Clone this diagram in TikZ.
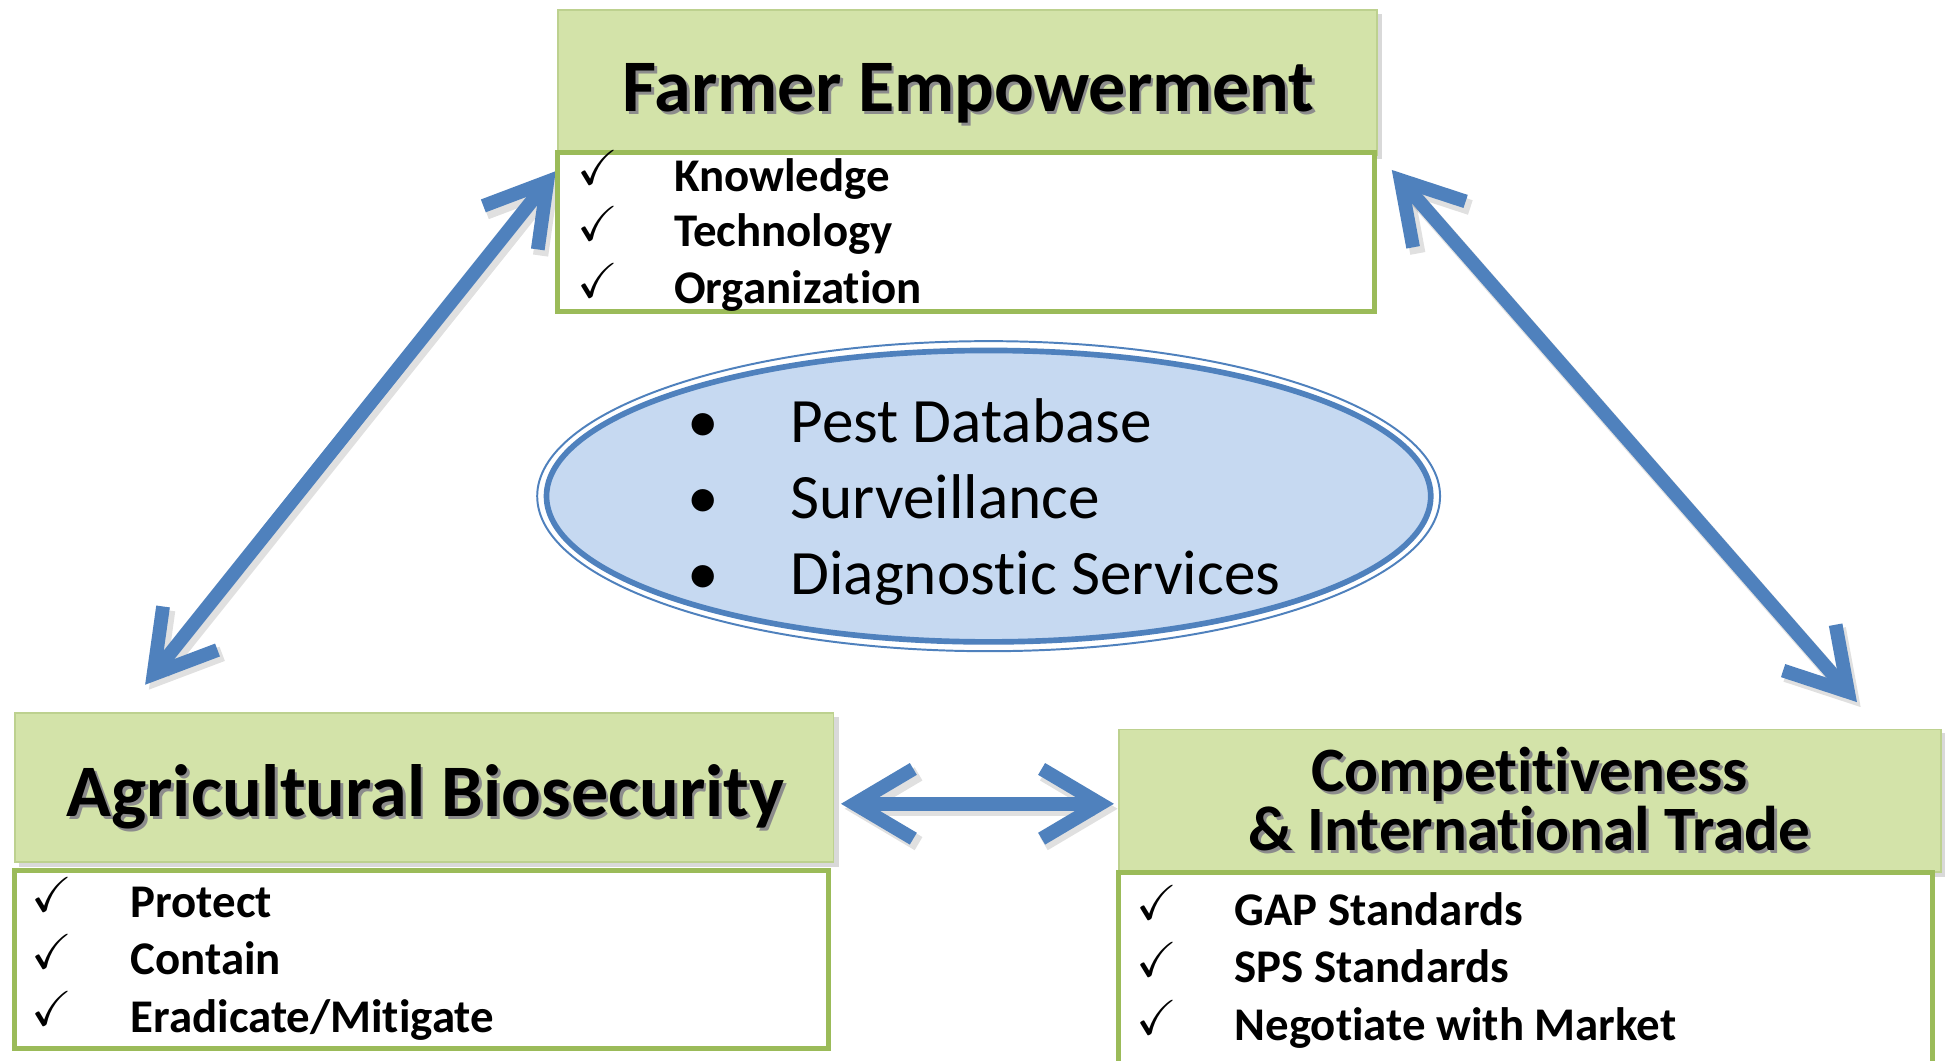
\documentclass[tikz,border=0pt]{standalone}
\usepackage{amssymb}
\usepackage{fontspec}
\setmainfont{Carlito}[Ligatures={NoCommon,NoContextual}, Contextuals=NoAlternate]
\usetikzlibrary{arrows.meta,shapes.geometric}
\definecolor{hdr}{HTML}{D3E3A9}
\definecolor{hdredge}{HTML}{BDD18F}
\definecolor{grn}{HTML}{9BBB59}
\definecolor{blu}{HTML}{4F81BD}
\definecolor{ellfill}{HTML}{C6D9F1}
\newcommand\shtext[1]{\makebox[0pt][l]{\hspace{1.3pt}\raisebox{-1.3pt}{\color{black!45}#1}}#1}
\newcommand\TI{t\kern0pt i}
\tikzset{
  hdrbox/.style={rectangle, fill=hdr, draw=hdredge, line width=0.8pt, inner sep=0},
  listbox/.style={rectangle, fill=white, draw=grn, line width=2.3pt, inner sep=0},
  hdrtext/.style={font=\bfseries\fontsize{34}{36}\selectfont, inner sep=0, anchor=base},
  hdrtextsm/.style={font=\bfseries\fontsize{29}{27.3}\selectfont, inner sep=0, anchor=base, align=center},
  itemtext/.style={font=\bfseries\fontsize{21.5}{24}\selectfont, anchor=base west, inner sep=0},
  chk/.style={font=\fontsize{22.5}{24}\selectfont, anchor=base, inner sep=0},
  elltext/.style={font=\fontsize{29}{32}\selectfont, anchor=base west, inner sep=0},
  bullet/.style={font=\fontsize{29}{32}\selectfont, anchor=base, inner sep=0},
  barb/.tip={Straight Barb[length=27pt,width=32pt]},
  bigarrow/.style={draw=blu, line width=6.3pt, barb-barb},
  arrowshadow/.style={draw=black, opacity=0.12, line width=7pt, barb-barb},
}
\begin{document}
\begin{tikzpicture}[x=0.02cm, y=-0.02cm]
\useasboundingbox (0,0) rectangle (1568,855);
\fill[white] (0,0) rectangle (1568,855);
\begin{scope}
\clip (0,0) rectangle (1568,855);

% ---------- arrows (named end points) ----------
\coordinate (l1) at (448,138);
\coordinate (l2) at (117,552);
\coordinate (r1) at (1122,137);
\coordinate (r2) at (1497,566);
\coordinate (h1) at (678,648);
\coordinate (h2) at (898,648);
\draw[arrowshadow] ([shift={(3,4)}]l1) -- ([shift={(3,4)}]l2);
\draw[arrowshadow] ([shift={(3,4)}]r1) -- ([shift={(3,4)}]r2);
\draw[arrowshadow] ([shift={(3,4)}]h1) -- ([shift={(3,4)}]h2);
\draw[bigarrow] (l1) -- (l2);
\draw[bigarrow] (r1) -- (r2);
\draw[bigarrow] (h1) -- (h2);

% ---------- ellipse ----------
\node (ellout) [ellipse, draw=blu, line width=0.9pt, minimum width=14.56cm, minimum height=5cm, inner sep=0] at (797,400) {};
\node (ellin) [ellipse, draw=blu, fill=ellfill, line width=2.6pt, minimum width=14.26cm, minimum height=4.7cm, inner sep=0] at (797,400) {};
\node (b1) [bullet] at (567,357) {•};
\node (b2) [bullet] at (567,418) {•};
\node (b3) [bullet] at (567,479) {•};
\node (e1) [elltext] at (637,357) {Pest Database};
\node (e2) [elltext] at (637,418) {Surveillance};
\node (e3) [elltext] at (637,479) {Diagnos\TI c Services};

% ---------- Farmer Empowerment ----------
\fill[black, opacity=0.15] (453,11) rectangle (1114,128);
\node (feh) [hdrbox, minimum width=13.2cm, minimum height=2.34cm] at (780,66.5) {};
\node (fel) [listbox, minimum width=13.18cm, minimum height=2.56cm] at (778.5,187) {};
\node (fet) [hdrtext] at (781,90) {\shtext{Farmer Empowerment}};
\node (fc1) [chk] at (482,149) {$\checkmark$};
\node (fc2) [chk] at (482,194) {$\checkmark$};
\node (fc3) [chk] at (482,240) {$\checkmark$};
\node (fi1) [itemtext] at (543,154) {Knowledge};
\node (fi2) [itemtext] at (543,199) {Technology};
\node (fi3) [itemtext] at (543,245) {Organiza\TI on};

% ---------- Agricultural Biosecurity ----------
\fill[black, opacity=0.15] (15,578) rectangle (676,699);
\node (abh) [hdrbox, minimum width=13.2cm, minimum height=2.4cm] at (342,635) {};
\node (abl) [listbox, minimum width=13.12cm, minimum height=2.86cm] at (340,773.5) {};
\node (abt) [hdrtext] at (343,658) {\shtext{Agricultural Biosecurity}};
\node (ac1) [chk] at (42,735) {$\checkmark$};
\node (ac2) [chk] at (42,781) {$\checkmark$};
\node (ac3) [chk] at (42,827) {$\checkmark$};
\node (ai1) [itemtext] at (105,740) {Protect};
\node (ai2) [itemtext] at (105,786) {Contain};
\node (ai3) [itemtext] at (105,832) {Eradicate/Mi\TI gate};

% ---------- Competitiveness ----------
\fill[black, opacity=0.15] (905,591) rectangle (1569,707);
\node (cih) [hdrbox, minimum width=13.26cm, minimum height=2.3cm] at (1233.5,645.5) {};
\node (cil) [listbox, minimum width=13.12cm, minimum height=3.54cm] at (1230,791.5) {};
\node (cit) [hdrtextsm] at (1233,686) {\shtext{Compe\TI\TI veness}\\\shtext{\& Interna\TI onal Trade}};
\node (cc1) [chk] at (933,741) {$\checkmark$};
\node (cc2) [chk] at (933,787) {$\checkmark$};
\node (cc3) [chk] at (933,834) {$\checkmark$};
\node (ci1) [itemtext] at (995,746) {GAP Standards};
\node (ci2) [itemtext] at (995,792) {SPS Standards};
\node (ci3) [itemtext] at (995,839) {Nego\TI ate with Market};
\end{scope}
\end{tikzpicture}
\end{document}
